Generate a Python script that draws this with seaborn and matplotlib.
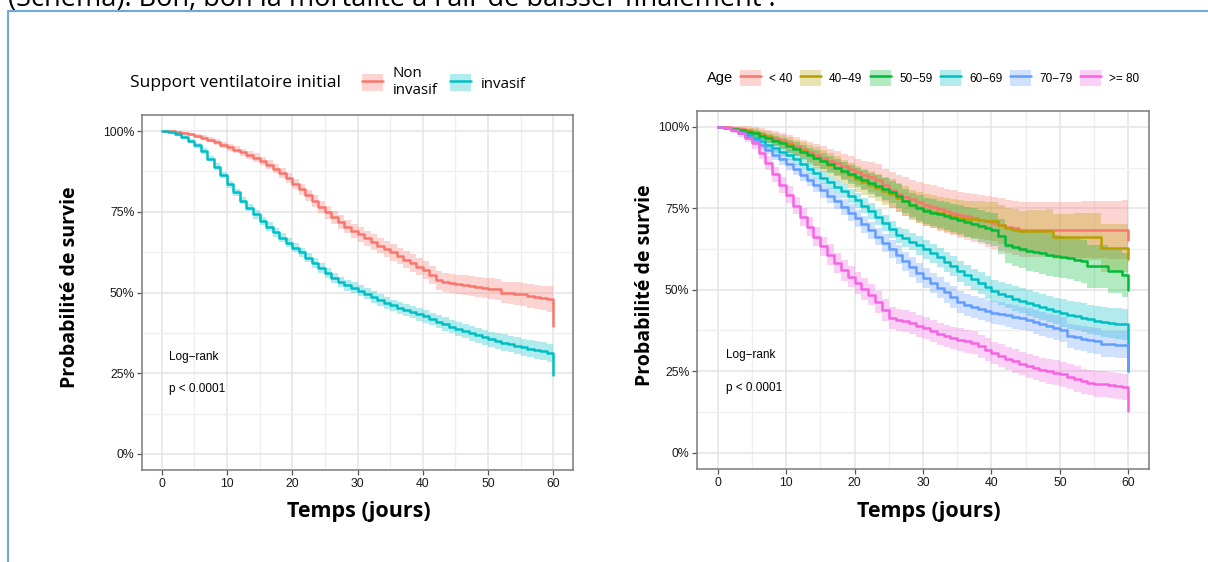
import numpy as np
import seaborn as sns
import matplotlib.pyplot as plt
from matplotlib.lines import Line2D
from matplotlib.patches import Patch
from matplotlib.ticker import MultipleLocator, PercentFormatter

sns.set_theme(style="white")
plt.rcParams['font.family'] = ['Liberation Sans', 'DejaVu Sans']
plt.rcParams['text.color'] = 'black'

W, H = 1208, 562

# ---- données (jours 0..60, survie en %) ----
days = np.arange(61)

# Panneau gauche : support ventilatoire initial
vent_labels = ["Non\ninvasif", "invasif"]
vent_colors = ["#F8766D", "#00BFC4"]
surv_non_invasif = [
    100, 100, 99.7, 99.4, 99.0, 98.6, 98.0, 97.4, 96.6, 95.8,
    95.0, 94.2, 93.5, 92.6, 91.8, 90.8, 89.6, 88.4, 87.0, 85.4,
    83.6, 82.0, 80.2, 78.4, 76.6, 74.8, 73.3, 71.8, 70.4, 69.1,
    68.0, 66.8, 65.6, 64.5, 63.5, 62.4, 61.3, 60.2, 59.1, 58.0,
    56.9, 55.5, 53.8, 53.2, 52.8, 52.5, 52.2, 52.0, 51.7, 51.4,
    51.2, 51.0, 50.0, 49.8, 49.6, 49.4, 48.9, 48.6, 48.3, 48.0,
    39.6]
ci_non_invasif = [
    0, 0.2, 0.3, 0.4, 0.5, 0.6, 0.7, 0.8, 0.9, 0.9,
    1.0, 1.1, 1.1, 1.2, 1.3, 1.3, 1.4, 1.4, 1.5, 1.5,
    1.6, 1.7, 1.7, 1.8, 1.9, 1.9, 2.0, 2.1, 2.1, 2.2,
    2.2, 2.3, 2.4, 2.4, 2.5, 2.5, 2.6, 2.6, 2.7, 2.7,
    2.8, 2.8, 2.9, 2.9, 3.0, 3.0, 3.1, 3.1, 3.2, 3.2,
    3.3, 3.3, 3.4, 3.4, 3.5, 3.5, 3.6, 3.7, 3.8, 3.9,
    3.9]
surv_invasif = [
    100, 99.6, 99.0, 98.2, 97.0, 95.6, 93.8, 91.5, 89.0, 86.4,
    83.6, 81.0, 78.5, 76.3, 74.2, 72.2, 70.4, 68.6, 66.9, 65.4,
    63.9, 62.4, 60.8, 59.2, 57.6, 56.0, 54.4, 53.3, 52.3, 51.4,
    50.6, 49.6, 48.6, 47.7, 46.8, 46.0, 45.3, 44.6, 43.9, 43.2,
    42.6, 41.8, 41.0, 40.2, 39.4, 38.7, 38.0, 37.3, 36.7, 36.1,
    35.5, 35.0, 34.5, 34.0, 33.5, 33.0, 32.6, 32.2, 31.8, 31.3,
    24.5]
ci_invasif = [
    0, 0.3, 0.5, 0.6, 0.7, 0.8, 0.9, 0.9, 1.0, 1.0,
    1.1, 1.1, 1.2, 1.2, 1.3, 1.3, 1.3, 1.4, 1.4, 1.4,
    1.5, 1.5, 1.5, 1.5, 1.6, 1.6, 1.6, 1.6, 1.7, 1.7,
    1.7, 1.7, 1.8, 1.8, 1.8, 1.8, 1.9, 1.9, 1.9, 2.0,
    2.0, 2.0, 2.1, 2.1, 2.1, 2.2, 2.2, 2.2, 2.3, 2.3,
    2.4, 2.4, 2.5, 2.5, 2.6, 2.6, 2.7, 2.7, 2.8, 2.8,
    2.8]

# Panneau droit : classes d'âge
age_labels = ["< 40", "40\u221249", "50\u221259", "60\u221269", "70\u221279", ">= 80"]
age_colors = ["#F8766D", "#B79F00", "#00BA38", "#00BFC4", "#619CFF", "#F564E3"]
surv_lt40 = [
    100, 99.8, 99.6, 99.3, 98.9, 98.5, 97.9, 97.2, 96.5, 95.8,
    95.0, 94.1, 93.2, 92.3, 91.4, 90.5, 89.6, 88.8, 87.9, 87.0,
    86.0, 85.3, 84.6, 83.6, 82.0, 80.5, 79.5, 78.6, 77.7, 76.8,
    76.0, 75.4, 74.8, 74.2, 73.6, 73.0, 72.5, 72.0, 71.5, 71.0,
    70.5, 70.0, 69.4, 68.9, 68.4, 68.4, 68.4, 68.4, 68.4, 68.4,
    68.4, 68.4, 68.4, 68.4, 68.4, 68.4, 68.4, 68.4, 68.4, 68.4,
    65.3]
ci_lt40 = [
    0, 0.3, 0.6, 0.9, 1.2, 1.5, 1.7, 1.9, 2.1, 2.3,
    2.5, 2.7, 2.9, 3.1, 3.3, 3.5, 3.6, 3.7, 3.8, 3.9,
    4.0, 4.3, 4.6, 4.9, 5.2, 5.5, 5.7, 5.9, 6.1, 6.3,
    6.5, 6.6, 6.7, 6.8, 6.9, 7.0, 7.2, 7.4, 7.6, 7.8,
    8.0, 8.1, 8.2, 8.3, 8.4, 8.5, 8.5, 8.5, 8.5, 8.5,
    8.5, 8.6, 8.6, 8.7, 8.7, 8.8, 8.8, 8.9, 8.9, 9.0,
    9.0]
surv_40_49 = [
    100, 99.7, 99.4, 99.0, 98.6, 98.2, 97.5, 96.8, 96.0, 95.3,
    94.5, 93.5, 92.5, 91.5, 90.5, 89.5, 88.4, 87.3, 86.2, 85.1,
    84.0, 83.1, 82.2, 81.3, 80.4, 79.5, 78.3, 77.1, 76.0, 75.2,
    74.5, 74.0, 73.5, 73.0, 72.5, 72.0, 71.8, 71.6, 71.4, 71.2,
    71.0, 70.0, 69.0, 68.4, 67.9, 67.9, 67.9, 67.9, 67.9, 66.3,
    66.3, 66.3, 66.3, 66.3, 66.3, 66.3, 62.8, 62.8, 62.8, 62.8,
    59.4]
ci_40_49 = [
    0, 0.3, 0.5, 0.8, 1.1, 1.4, 1.6, 1.8, 2.0, 2.2,
    2.4, 2.6, 2.8, 3.0, 3.2, 3.4, 3.5, 3.6, 3.7, 3.8,
    3.9, 4.0, 4.1, 4.2, 4.3, 4.4, 4.5, 4.6, 4.7, 4.8,
    4.9, 5.0, 5.1, 5.2, 5.3, 5.4, 5.5, 5.6, 5.7, 5.8,
    5.9, 6.0, 6.2, 6.3, 6.4, 6.5, 6.6, 6.7, 6.8, 6.9,
    7.0, 7.0, 7.1, 7.1, 7.2, 7.2, 7.4, 7.4, 7.5, 7.5,
    7.5]
surv_50_59 = [
    100, 99.7, 99.3, 98.9, 98.5, 98.0, 97.3, 96.5, 95.7, 94.9,
    94.0, 93.1, 92.2, 91.3, 90.4, 89.5, 88.5, 87.5, 86.5, 85.5,
    84.5, 83.6, 82.7, 81.8, 80.9, 80.0, 78.7, 77.3, 76.0, 75.1,
    74.2, 73.7, 73.1, 72.6, 72.0, 71.5, 70.9, 70.3, 69.6, 69.0,
    68.4, 66.4, 63.8, 63.2, 62.6, 62.0, 61.6, 61.2, 60.8, 60.4,
    60.1, 59.7, 59.2, 58.7, 57.2, 57.2, 57.2, 55.7, 55.7, 54.6,
    49.8]
ci_50_59 = [
    0, 0.2, 0.4, 0.6, 0.8, 1.0, 1.2, 1.4, 1.6, 1.8,
    2.0, 2.1, 2.2, 2.3, 2.4, 2.5, 2.6, 2.7, 2.8, 2.9,
    3.0, 3.1, 3.2, 3.3, 3.4, 3.5, 3.6, 3.7, 3.8, 3.9,
    4.0, 4.1, 4.2, 4.3, 4.4, 4.5, 4.6, 4.7, 4.8, 4.9,
    5.0, 5.3, 5.6, 5.8, 6.0, 6.2, 6.3, 6.4, 6.5, 6.5,
    6.5, 6.5, 6.5, 6.5, 6.6, 6.6, 6.6, 6.7, 6.7, 6.8,
    6.8]
surv_60_69 = [
    100, 99.6, 99.1, 98.4, 97.5, 96.5, 95.5, 94.5, 93.4, 92.4,
    91.3, 90.0, 88.6, 87.2, 85.8, 84.4, 83.0, 81.6, 80.2, 78.8,
    77.4, 75.8, 74.2, 72.4, 70.5, 68.5, 66.8, 65.8, 64.8, 63.6,
    62.4, 61.2, 59.9, 58.6, 57.2, 55.6, 54.4, 53.2, 52.0, 50.8,
    49.6, 48.8, 48.0, 47.3, 46.6, 45.9, 45.3, 44.7, 44.1, 43.5,
    42.9, 42.4, 41.9, 41.4, 40.9, 40.5, 40.1, 39.8, 39.6, 39.4,
    25.0]
ci_60_69 = [
    0, 0.3, 0.5, 0.7, 0.9, 1.0, 1.1, 1.2, 1.3, 1.4,
    1.5, 1.6, 1.7, 1.8, 1.9, 2.0, 2.0, 2.1, 2.1, 2.2,
    2.2, 2.3, 2.4, 2.4, 2.5, 2.5, 2.6, 2.7, 2.7, 2.8,
    2.9, 2.9, 3.0, 3.1, 3.1, 3.2, 3.3, 3.3, 3.4, 3.5,
    3.5, 3.6, 3.7, 3.7, 3.8, 3.9, 3.9, 4.0, 4.1, 4.1,
    4.2, 4.3, 4.3, 4.4, 4.5, 4.5, 4.6, 4.7, 4.7, 4.8,
    4.8]
surv_70_79 = [
    100, 99.6, 99.0, 98.2, 97.0, 95.8, 94.4, 93.0, 91.4, 90.0,
    88.5, 86.9, 85.3, 83.7, 82.1, 80.5, 78.8, 77.1, 75.4, 73.7,
    72.0, 70.1, 68.2, 66.3, 64.4, 62.5, 60.7, 58.8, 57.0, 55.2,
    53.5, 52.0, 50.6, 49.2, 47.8, 46.2, 45.3, 44.6, 44.0, 43.5,
    43.0, 42.6, 42.2, 41.7, 41.2, 40.8, 40.2, 39.6, 39.0, 38.4,
    37.8, 35.8, 35.4, 35.0, 34.6, 34.2, 33.3, 33.3, 33.2, 33.2,
    25.0]
ci_70_79 = [
    0, 0.3, 0.5, 0.7, 0.9, 1.1, 1.2, 1.3, 1.5, 1.6,
    1.7, 1.8, 1.9, 2.0, 2.1, 2.2, 2.3, 2.4, 2.4, 2.5,
    2.6, 2.6, 2.7, 2.7, 2.8, 2.8, 2.9, 2.9, 3.0, 3.0,
    3.1, 3.1, 3.2, 3.2, 3.3, 3.3, 3.3, 3.4, 3.4, 3.4,
    3.5, 3.5, 3.5, 3.6, 3.6, 3.6, 3.7, 3.7, 3.7, 3.8,
    3.8, 3.8, 3.9, 3.9, 3.9, 4.0, 4.0, 4.0, 4.1, 4.1,
    4.1]
surv_ge80 = [
    100, 99.5, 98.9, 98.0, 96.6, 94.9, 92.0, 88.8, 85.4, 82.2,
    79.1, 75.8, 72.4, 69.3, 66.3, 63.3, 60.8, 58.2, 56.0, 54.0,
    52.0, 50.2, 48.5, 46.2, 43.9, 41.3, 40.8, 40.3, 39.8, 39.0,
    38.3, 37.4, 36.5, 35.7, 35.2, 34.7, 34.2, 33.7, 32.6, 31.6,
    30.6, 29.8, 28.9, 28.1, 27.3, 26.5, 26.0, 25.5, 25.0, 24.5,
    24.0, 23.3, 22.6, 21.9, 21.5, 21.2, 21.0, 20.8, 20.6, 20.2,
    12.8]
ci_ge80 = [
    0, 0.4, 0.7, 1.0, 1.3, 1.6, 1.9, 2.1, 2.3, 2.5,
    2.6, 2.7, 2.8, 2.9, 3.0, 3.0, 3.1, 3.1, 3.2, 3.2,
    3.3, 3.3, 3.3, 3.4, 3.4, 3.4, 3.4, 3.4, 3.4, 3.4,
    3.4, 3.4, 3.4, 3.4, 3.5, 3.5, 3.5, 3.5, 3.5, 3.5,
    3.5, 3.5, 3.6, 3.6, 3.6, 3.7, 3.7, 3.7, 3.8, 3.8,
    3.8, 3.8, 3.9, 3.9, 3.9, 4.0, 4.0, 4.0, 4.0, 4.0,
    4.0]

vent_surv = [surv_non_invasif, surv_invasif]
vent_ci = [ci_non_invasif, ci_invasif]
age_surv = [surv_lt40, surv_40_49, surv_50_59, surv_60_69, surv_70_79, surv_ge80]
age_ci = [ci_lt40, ci_40_49, ci_50_59, ci_60_69, ci_70_79, ci_ge80]

LW = 1.8


def km_panel(ax, survs, cis, colors):
    # bandes de confiance puis courbes en escalier
    for s, c, col in zip(survs, cis, colors):
        s, c = np.asarray(s), np.asarray(c)
        ax.fill_between(days, s - c, s + c, step="post", color=col, alpha=0.3, lw=0)
    for s, col in zip(survs, colors):
        sns.lineplot(x=days, y=s, color=col, drawstyle="steps-post", lw=LW, ax=ax)

    ax.set_xlim(-3, 63)
    ax.set_ylim(-5, 105)
    ax.xaxis.set_major_locator(MultipleLocator(10))
    ax.xaxis.set_minor_locator(MultipleLocator(5))
    ax.yaxis.set_major_locator(MultipleLocator(25))
    ax.yaxis.set_minor_locator(MultipleLocator(12.5))
    ax.yaxis.set_major_formatter(PercentFormatter(xmax=100, decimals=0))
    ax.grid(which="major", color="#E6E6E6", lw=1.2)
    ax.grid(which="minor", color="#EFEFEF", lw=0.9)
    ax.set_axisbelow(True)
    for sp in ax.spines.values():
        sp.set_visible(True)
        sp.set_color("#7a7a7a")
        sp.set_linewidth(1.1)
    ax.tick_params(which="major", bottom=True, left=True, length=3.5, width=0.9,
                   color="#555555", labelsize=8.8, pad=2, labelcolor="#1a1a1a")
    ax.tick_params(which="minor", length=0)
    ax.set_xlabel("")
    ax.set_ylabel("")
    ax.text(1.2, 30, "Log\u2212rank", fontsize=8.5, va="center")
    ax.text(1.2, 20, "p < 0.0001", fontsize=8.5, va="center")


fig = plt.figure(figsize=(W / 100, H / 100), dpi=100)
ax1 = fig.add_axes([142 / W, 1 - 470 / H, (573 - 142) / W, (470 - 115) / H])
ax2 = fig.add_axes([697 / W, 1 - 469 / H, (1149 - 697) / W, (469 - 110.5) / H])

km_panel(ax1, vent_surv, vent_ci, vent_colors)
km_panel(ax2, age_surv, age_ci, age_colors)

# titres d'axes
lab = dict(family=["Open Sans", "DejaVu Sans"], fontweight="bold", ha="center", va="center")
fig.text(70 / W, 1 - 287 / H, "Probabilité de survie", rotation=90, fontsize=14, **lab)
fig.text(645 / W, 1 - 285 / H, "Probabilité de survie", rotation=90, fontsize=14, **lab)
fig.text(359 / W, 1 - 512 / H, "Temps (jours)", fontsize=15.5, **lab)
fig.text(929 / W, 1 - 512 / H, "Temps (jours)", fontsize=15.5, **lab)

# légendes
def key(col):
    return (Patch(facecolor=col, alpha=0.3, edgecolor="none"), Line2D([], [], color=col, lw=LW))

fig.text(130 / W, 1 - 83 / H, "Support ventilatoire initial", fontsize=12.5,
         family=["Open Sans", "DejaVu Sans"], va="center")
fig.legend([key(c) for c in vent_colors], vent_labels, loc="center left",
           bbox_to_anchor=(362 / W, 1 - 82 / H), ncol=2, frameon=False,
           prop={"family": ["Open Sans", "DejaVu Sans"], "size": 10.8},
           handlelength=1.4, handleheight=1.4, handletextpad=0.65,
           columnspacing=0.85, borderpad=0, borderaxespad=0)

fig.text(707 / W, 1 - 78 / H, "Age", fontsize=10.5, va="center")
fig.legend([key(c) for c in age_colors], age_labels, loc="center left",
           bbox_to_anchor=(740 / W, 1 - 78 / H), ncol=6, frameon=False,
           prop={"size": 8.5}, handlelength=1.78, handleheight=1.78,
           handletextpad=0.68, columnspacing=0.65, borderpad=0, borderaxespad=0)

# cadre de la diapositive et texte coupé en haut
fig.add_artist(Line2D([8 / W, 8 / W, 1], [0, 1 - 11 / H, 1 - 11 / H],
                      transform=fig.transFigure, color="#6FA8DC", lw=1.5))
fig.text(8 / W, 1 - 6 / H, "(Schéma). Bon, bon la mortalité a l'air de baisser finalement !",
         fontsize=19.5, family=["Open Sans", "DejaVu Sans"], va="baseline")

fig.savefig("out.png", dpi=100)
